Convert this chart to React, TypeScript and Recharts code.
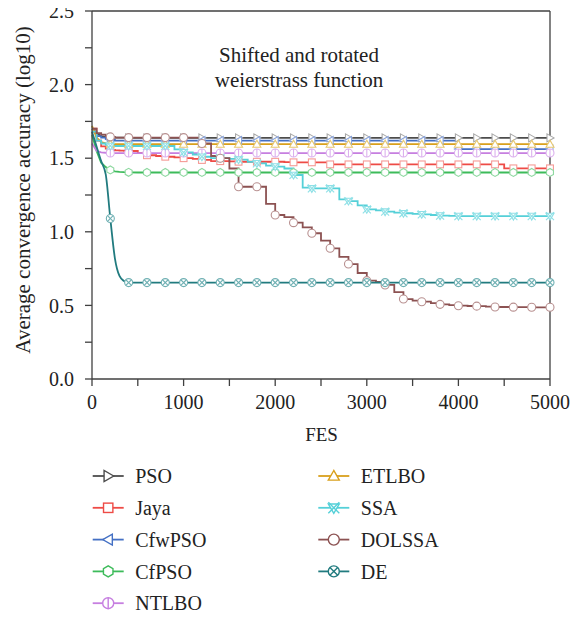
import React from 'react';
import { LineChart, Line, XAxis, YAxis, ReferenceLine } from 'recharts';

const FES = [0, 50, 100, 150, 200, 250, 300, 350, 400, 500, 600, 700, 800, 900, 1000, 1100, 1200, 1300, 1400, 1500, 1600, 1700, 1800, 1900, 2000, 2100, 2200, 2300, 2400, 2500, 2600, 2700, 2800, 2900, 3000, 3100, 3200, 3300, 3400, 3500, 3600, 3700, 3800, 3900, 4000, 4100, 4200, 4300, 4400, 4500, 4600, 4700, 4800, 4900, 5000];

const PSO = [1.70, 1.67, 1.65, 1.645, 1.64, 1.64, 1.64, 1.64, 1.638, 1.638, 1.638, 1.638, 1.638, 1.638, 1.638, 1.638, 1.638, 1.638, 1.638, 1.638, 1.638, 1.638, 1.638, 1.638, 1.638, 1.638, 1.638, 1.638, 1.638, 1.638, 1.638, 1.638, 1.638, 1.638, 1.638, 1.638, 1.638, 1.638, 1.638, 1.638, 1.638, 1.638, 1.638, 1.638, 1.638, 1.638, 1.638, 1.638, 1.638, 1.638, 1.638, 1.638, 1.638, 1.638, 1.638];
const JAYA = [1.70, 1.62, 1.58, 1.565, 1.556, 1.553, 1.551, 1.55, 1.549, 1.535, 1.52, 1.515, 1.51, 1.505, 1.50, 1.495, 1.488, 1.48, 1.48, 1.478, 1.476, 1.476, 1.476, 1.476, 1.476, 1.474, 1.472, 1.472, 1.472, 1.472, 1.458, 1.458, 1.458, 1.458, 1.458, 1.458, 1.458, 1.458, 1.458, 1.458, 1.458, 1.458, 1.458, 1.458, 1.458, 1.458, 1.458, 1.458, 1.458, 1.431, 1.431, 1.431, 1.431, 1.431, 1.431];
const CFWPSO = [1.68, 1.65, 1.64, 1.63, 1.625, 1.62, 1.62, 1.62, 1.62, 1.62, 1.62, 1.62, 1.62, 1.62, 1.62, 1.62, 1.62, 1.62, 1.62, 1.62, 1.62, 1.62, 1.62, 1.62, 1.62, 1.62, 1.62, 1.62, 1.62, 1.62, 1.62, 1.62, 1.62, 1.62, 1.62, 1.62, 1.62, 1.62, 1.62, 1.62, 1.62, 1.62, 1.62, 1.62, 1.562, 1.562, 1.562, 1.562, 1.562, 1.562, 1.562, 1.562, 1.562, 1.562, 1.562];
const CFPSO = [1.66, 1.55, 1.47, 1.44, 1.42, 1.41, 1.407, 1.405, 1.404, 1.403, 1.403, 1.403, 1.403, 1.403, 1.403, 1.403, 1.403, 1.403, 1.403, 1.403, 1.403, 1.403, 1.403, 1.403, 1.403, 1.403, 1.403, 1.403, 1.403, 1.403, 1.403, 1.403, 1.403, 1.403, 1.403, 1.403, 1.403, 1.403, 1.403, 1.403, 1.403, 1.403, 1.403, 1.403, 1.403, 1.403, 1.403, 1.403, 1.403, 1.403, 1.403, 1.403, 1.403, 1.403, 1.403];
const NTLBO = [1.60, 1.55, 1.54, 1.537, 1.535, 1.535, 1.535, 1.535, 1.535, 1.535, 1.535, 1.535, 1.535, 1.535, 1.535, 1.535, 1.535, 1.535, 1.535, 1.535, 1.535, 1.535, 1.535, 1.535, 1.535, 1.535, 1.535, 1.535, 1.535, 1.535, 1.535, 1.535, 1.535, 1.535, 1.535, 1.535, 1.535, 1.535, 1.535, 1.535, 1.535, 1.535, 1.535, 1.535, 1.535, 1.535, 1.535, 1.535, 1.535, 1.535, 1.535, 1.535, 1.535, 1.535, 1.535];
const ETLBO = [1.72, 1.64, 1.61, 1.60, 1.597, 1.595, 1.595, 1.595, 1.595, 1.595, 1.595, 1.595, 1.595, 1.595, 1.595, 1.595, 1.595, 1.595, 1.595, 1.595, 1.595, 1.595, 1.595, 1.595, 1.595, 1.595, 1.595, 1.595, 1.595, 1.595, 1.595, 1.595, 1.595, 1.595, 1.595, 1.595, 1.595, 1.595, 1.595, 1.595, 1.595, 1.595, 1.595, 1.595, 1.595, 1.595, 1.595, 1.595, 1.595, 1.595, 1.595, 1.595, 1.595, 1.595, 1.595];
const SSA = [1.68, 1.62, 1.60, 1.59, 1.583, 1.583, 1.583, 1.583, 1.583, 1.583, 1.583, 1.583, 1.583, 1.56, 1.54, 1.525, 1.51, 1.50, 1.50, 1.495, 1.49, 1.475, 1.465, 1.45, 1.443, 1.43, 1.386, 1.30, 1.295, 1.295, 1.295, 1.22, 1.209, 1.18, 1.153, 1.145, 1.137, 1.13, 1.126, 1.122, 1.119, 1.114, 1.11, 1.108, 1.107, 1.107, 1.107, 1.107, 1.107, 1.107, 1.107, 1.107, 1.107, 1.107, 1.107];
const DOLSSA = [1.70, 1.67, 1.66, 1.65, 1.645, 1.64, 1.64, 1.64, 1.64, 1.64, 1.64, 1.64, 1.64, 1.64, 1.64, 1.64, 1.60, 1.515, 1.50, 1.43, 1.306, 1.306, 1.306, 1.19, 1.114, 1.10, 1.062, 1.03, 0.99, 0.94, 0.888, 0.83, 0.781, 0.72, 0.668, 0.66, 0.639, 0.59, 0.543, 0.533, 0.525, 0.515, 0.507, 0.502, 0.498, 0.496, 0.495, 0.492, 0.489, 0.489, 0.488, 0.488, 0.487, 0.487, 0.487];
const DE = [1.68, 1.58, 1.48, 1.39, 1.09, 0.82, 0.70, 0.665, 0.655, 0.655, 0.655, 0.655, 0.655, 0.655, 0.655, 0.655, 0.655, 0.655, 0.655, 0.655, 0.655, 0.655, 0.655, 0.655, 0.655, 0.655, 0.655, 0.655, 0.655, 0.655, 0.655, 0.655, 0.655, 0.655, 0.655, 0.655, 0.655, 0.655, 0.655, 0.655, 0.655, 0.655, 0.655, 0.655, 0.655, 0.655, 0.655, 0.655, 0.655, 0.655, 0.655, 0.655, 0.655, 0.655, 0.655];

const Y_TICKS = [0, 0.25, 0.5, 0.75, 1, 1.25, 1.5, 1.75, 2, 2.25, 2.5];
const X_TICKS = [0, 500, 1000, 1500, 2000, 2500, 3000, 3500, 4000, 4500, 5000];

const TITLE_LINES = ['Shifted and rotated', 'weierstrass function'];

type Shape = 'triRight' | 'square' | 'triLeft' | 'hex' | 'circleBar' | 'triUp' | 'star' | 'circle' | 'circleX';

const SERIES: { key: string; name: string; values: number[]; color: string; mark: string; shape: Shape; curve: any }[] = [
  { key: 'PSO', name: 'PSO', values: PSO, color: '#4d4d4d', mark: '#a8a8a8', shape: 'triRight', curve: 'linear' },
  { key: 'Jaya', name: 'Jaya', values: JAYA, color: '#ee4b46', mark: '#f59a96', shape: 'square', curve: 'stepAfter' },
  { key: 'CfwPSO', name: 'CfwPSO', values: CFWPSO, color: '#4470c4', mark: '#8aa4dc', shape: 'triLeft', curve: 'stepAfter' },
  { key: 'CfPSO', name: 'CfPSO', values: CFPSO, color: '#3dbb5a', mark: '#8ed8a0', shape: 'hex', curve: 'linear' },
  { key: 'NTLBO', name: 'NTLBO', values: NTLBO, color: '#c67fe0', mark: '#dcb0ee', shape: 'circleBar', curve: 'linear' },
  { key: 'ETLBO', name: 'ETLBO', values: ETLBO, color: '#d9a01c', mark: '#e8c870', shape: 'triUp', curve: 'linear' },
  { key: 'SSA', name: 'SSA', values: SSA, color: '#55d0d8', mark: '#8ee0e6', shape: 'star', curve: 'stepAfter' },
  { key: 'DOLSSA', name: 'DOLSSA', values: DOLSSA, color: '#8c5252', mark: '#b89090', shape: 'circle', curve: 'stepAfter' },
  { key: 'DE', name: 'DE', values: DE, color: '#217b7f', mark: '#6fb0b3', shape: 'circleX', curve: 'monotone' },
];

const data = FES.map((f, i) => {
  const row: any = { fes: f };
  SERIES.forEach((s) => { row[s.key] = s.values[i]; });
  return row;
});

function Marker({ shape, cx, cy, r, stroke, sw }: { shape: Shape; cx: number; cy: number; r: number; stroke: string; sw: number }) {
  const common = { fill: '#fff', stroke, strokeWidth: sw };
  switch (shape) {
    case 'triRight':
      return <polygon {...common} points={`${cx + r},${cy} ${cx - r * 0.75},${cy - r} ${cx - r * 0.75},${cy + r}`} />;
    case 'triLeft':
      return <polygon {...common} points={`${cx - r},${cy} ${cx + r * 0.75},${cy - r} ${cx + r * 0.75},${cy + r}`} />;
    case 'triUp':
      return <polygon {...common} points={`${cx},${cy - r} ${cx - r},${cy + r * 0.75} ${cx + r},${cy + r * 0.75}`} />;
    case 'square':
      return <rect {...common} x={cx - r * 0.85} y={cy - r * 0.85} width={r * 1.7} height={r * 1.7} />;
    case 'hex': {
      const pts = [0, 1, 2, 3, 4, 5].map((k) => {
        const a = (Math.PI / 3) * k + Math.PI / 6;
        return `${cx + r * Math.cos(a)},${cy + r * Math.sin(a)}`;
      }).join(' ');
      return <polygon {...common} points={pts} />;
    }
    case 'circle':
      return <circle {...common} cx={cx} cy={cy} r={r} />;
    case 'circleBar':
      return (
        <g>
          <circle {...common} cx={cx} cy={cy} r={r} />
          <line x1={cx} y1={cy - r} x2={cx} y2={cy + r} stroke={stroke} strokeWidth={sw} />
        </g>
      );
    case 'circleX': {
      const d = r * 0.707;
      return (
        <g>
          <circle {...common} cx={cx} cy={cy} r={r} />
          <line x1={cx - d} y1={cy - d} x2={cx + d} y2={cy + d} stroke={stroke} strokeWidth={sw} />
          <line x1={cx - d} y1={cy + d} x2={cx + d} y2={cy - d} stroke={stroke} strokeWidth={sw} />
        </g>
      );
    }
    case 'star': {
      return (
        <g>
          <polygon {...common} points={`${cx},${cy + r} ${cx - r},${cy - r * 0.7} ${cx + r},${cy - r * 0.7}`} />
          <line x1={cx - r} y1={cy - r} x2={cx + r} y2={cy + r} stroke={stroke} strokeWidth={sw} />
          <line x1={cx - r} y1={cy + r} x2={cx + r} y2={cy - r} stroke={stroke} strokeWidth={sw} />
        </g>
      );
    }
  }
  return null;
}

const FONT = '"Liberation Serif", Tinos, Times, monospace';

export default function App() {
  const legendRows = [
    ['PSO', 'Jaya', 'CfwPSO', 'CfPSO', 'NTLBO'],
    ['ETLBO', 'SSA', 'DOLSSA', 'DE'],
  ];
  const colX = [84.7, 310.3];
  const tickStyle = { fill: '#222', fontSize: 20, fontFamily: FONT };
  return (
    <div style={{ position: 'relative', top: -8, width: 570, height: 620, fontFamily: FONT }}>
      <LineChart width={570} height={468} data={data} margin={{ top: 11, right: 28, left: 0, bottom: 29 }} style={{ fontFamily: FONT }}>
        <XAxis
          dataKey="fes"
          type="number"
          domain={[0, 5000]}
          ticks={X_TICKS}
          interval={0}
          tickFormatter={(v: number) => (v % 1000 === 0 ? String(v) : '')}
          height={60}
          tickSize={7}
          tickMargin={9}
          stroke="#404040"
          strokeWidth={1.3}
          tick={tickStyle}
        />
        <YAxis
          type="number"
          domain={[0, 2.5]}
          ticks={Y_TICKS}
          interval={0}
          tickFormatter={(v: number) => (Number.isInteger(v * 2) ? v.toFixed(1) : '')}
          width={84}
          tickSize={7}
          tickMargin={11}
          stroke="#404040"
          strokeWidth={1.3}
          tick={tickStyle}
        />
        <ReferenceLine y={2.5} stroke="#404040" strokeWidth={1.3} />
        <ReferenceLine x={5000} stroke="#404040" strokeWidth={1.3} />
        {SERIES.map((s) => (
          <Line
            key={s.key}
            dataKey={s.key}
            type={s.curve}
            stroke={s.color}
            strokeWidth={1.8}
            isAnimationActive={false}
            activeDot={false}
            dot={(p: any) => {
              const k = `${s.key}-${p.index}`;
              if (!p.payload || p.payload.fes === 0 || p.payload.fes % 200 !== 0) return <g key={k} />;
              return (
                <g key={k}>
                  <Marker shape={s.shape} cx={p.cx} cy={p.cy} r={4} stroke={s.mark} sw={1.1} />
                </g>
              );
            }}
          />
        ))}
      </LineChart>
      <svg width={570} height={620} style={{ position: 'absolute', left: 0, top: 0, pointerEvents: 'none', fontFamily: FONT }}>
        <text x={15} y={190} transform="rotate(-90 15 190)" textAnchor="middle" dominantBaseline="central" fontSize={21} fill="#222" fontFamily={FONT}>
          Average convergence accuracy (log10)
        </text>
        <text x={313.5} y={440.7} textAnchor="middle" fontSize={19} fill="#222" fontFamily={FONT}>FES</text>
        {TITLE_LINES.map((t, i) => (
          <text key={t} x={291} y={61.7 + i * 25} textAnchor="middle" fontSize={21} fill="#222" fontFamily={FONT}>{t}</text>
        ))}
        {legendRows.map((col, ci) =>
          col.map((name, ri) => {
            const s = SERIES.find((x) => x.name === name)!;
            const y = 476 + ri * 31.8;
            const x0 = colX[ci];
            return (
              <g key={name}>
                <line x1={x0} y1={y} x2={x0 + 31} y2={y} stroke={s.color} strokeWidth={1.8} />
                <Marker shape={s.shape} cx={x0 + 15.5} cy={y} r={5.5} stroke={s.color} sw={1.4} />
                <text x={x0 + 42.5} y={y + 7.2} fontSize={20} fill="#222" fontFamily={FONT}>{name}</text>
              </g>
            );
          })
        )}
      </svg>
    </div>
  );
}
